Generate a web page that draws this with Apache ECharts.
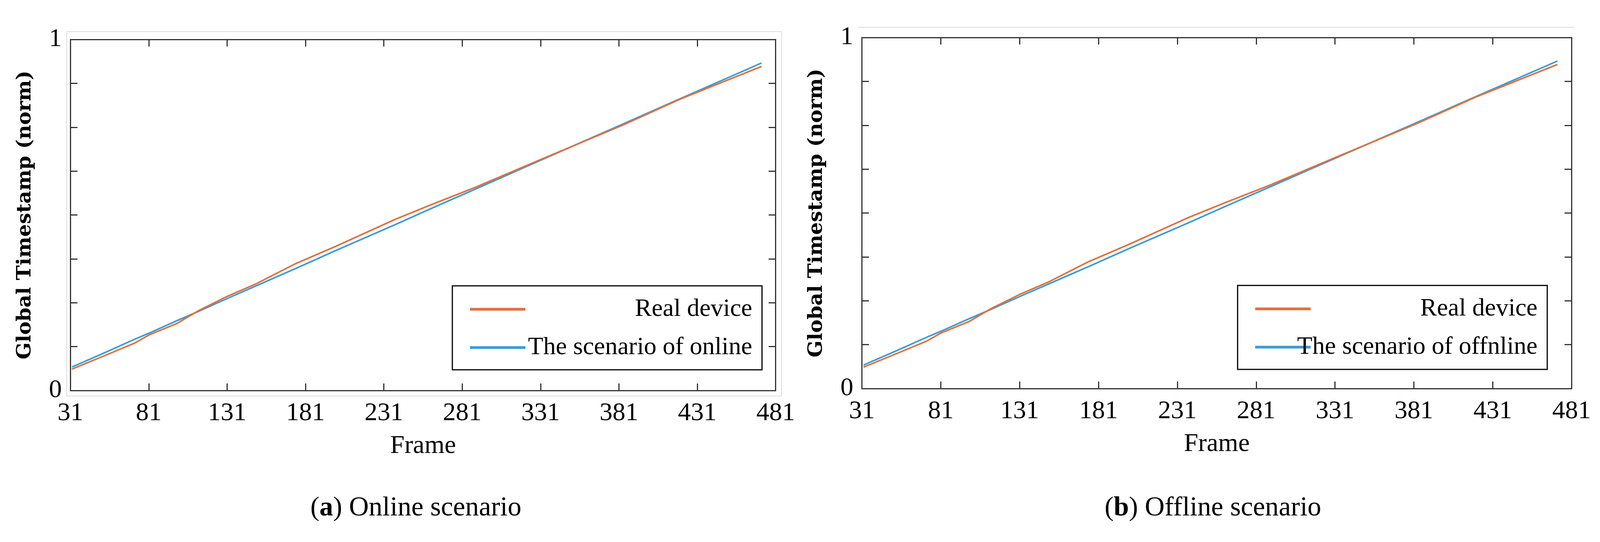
<!DOCTYPE html>
<html><head><meta charset="utf-8">
<script src="https://cdn.jsdelivr.net/npm/echarts@6/dist/echarts.min.js"></script>
<style>html,body{margin:0;background:#fff;overflow:hidden}#c{width:100vw;height:100vh}</style>
</head><body><div id="c"></div>
<script>
const xTicks = [31, 81, 131, 181, 231, 281, 331, 381, 431, 481];
const frames = [32, 50, 72, 81, 99, 113, 131, 150, 175, 200, 238, 260, 290, 330, 383, 420, 472];
const realOnline = [0.061, 0.094, 0.135, 0.158, 0.191, 0.228, 0.268, 0.305, 0.362, 0.410, 0.487, 0.527, 0.580, 0.656, 0.755, 0.830, 0.923];
const simOnline = [0.067, 0.102, 0.146, 0.163, 0.199, 0.226, 0.262, 0.299, 0.348, 0.398, 0.472, 0.516, 0.575, 0.654, 0.758, 0.831, 0.933];
const realOffline = [0.061, 0.094, 0.135, 0.158, 0.191, 0.228, 0.268, 0.305, 0.362, 0.410, 0.487, 0.527, 0.580, 0.656, 0.755, 0.830, 0.923];
const simOffline = [0.067, 0.102, 0.146, 0.163, 0.199, 0.226, 0.262, 0.299, 0.348, 0.398, 0.472, 0.516, 0.575, 0.654, 0.758, 0.831, 0.933];
const seriesNames = ['Real device', 'The scenario of online', 'The scenario of offnline'];
const captions = [['a', ' Online scenario'], ['b', ' Offline scenario']];

const F = 'Liberation Serif';
const el = document.getElementById('c');
const chart = echarts.init(el);
const sx = chart.getWidth() / 4340, sy = chart.getHeight() / 1388;
const X = v => v * sx, Y = v => v * sy;
const pair = (xs, ys) => xs.map((x, i) => [x, ys[i]]);
const grids = [
  {left: X(191), top: Y(101), width: X(1913), height: Y(899)},
  {left: X(2338), top: Y(96), width: X(1925), height: Y(899)}
];
const xAxes = [], yAxes = [];
grids.forEach((g, i) => {
  const base = {gridIndex: i, type: 'value', min: 31, max: 481, interval: 50,
    axisLine: {show: true, onZero: false, lineStyle: {color: '#333', width: 3}},
    axisTick: {show: true, inside: true, length: 18, lineStyle: {color: '#333', width: 3}},
    splitLine: {show: false}};
  xAxes.push(Object.assign({}, base, {position: 'bottom', name: 'Frame', nameLocation: 'middle', nameGap: 110,
    nameTextStyle: {fontFamily: F, fontSize: 66, color: '#000'},
    axisLabel: {fontFamily: F, fontSize: 66, color: '#000', margin: 26}}));
  xAxes.push(Object.assign({}, base, {position: 'top', axisLabel: {show: false}}));
  const yb = {gridIndex: i, type: 'value', min: 0, max: 1, interval: 0.125,
    axisLine: {show: true, onZero: false, lineStyle: {color: '#333', width: 3}},
    axisTick: {show: true, inside: true, length: 18, lineStyle: {color: '#333', width: 3}},
    splitLine: {show: false}};
  yAxes.push(Object.assign({}, yb, {position: 'left', name: 'Global Timestamp (norm)', nameLocation: 'middle', nameGap: 90,
    nameTextStyle: {fontFamily: 'DejaVu Serif', fontWeight: 'bold', fontSize: 51, color: '#000'},
    axisLabel: {fontFamily: F, fontSize: 66, color: '#000', margin: 22,
      formatter: v => (v === 0 || v === 1) ? String(v) : ''}}));
  yAxes.push(Object.assign({}, yb, {position: 'right', axisLabel: {show: false}}));
});
const line = (name, data, color, gi) => ({type: 'line', name, data, xAxisIndex: gi * 2, yAxisIndex: gi * 2,
  showSymbol: false, symbol: 'none', lineStyle: {color, width: 4}, itemStyle: {color}, z: color === '#3b9bd6' ? 2 : 3});
const legendBase = {orient: 'vertical', backgroundColor: '#fff', borderColor: '#000', borderWidth: 3,
  icon: 'rect', itemWidth: 142, itemHeight: 7, itemGap: 34, padding: [28, 25, 25, 45],
  formatter: n => '{t|' + n + '}',
  textStyle: {fontFamily: F, fontSize: 64, color: '#000',
    rich: {t: {fontFamily: F, fontSize: 64, color: '#000', width: X(610), align: 'right'}}}};
const option = {
  backgroundColor: '#fff', animation: false,
  grid: grids,
  xAxis: xAxes, yAxis: yAxes,
  legend: [
    Object.assign({}, legendBase, {left: X(1227), top: Y(732), data: [seriesNames[0], seriesNames[1]]}),
    Object.assign({}, legendBase, {left: X(3357), top: Y(731), data: [seriesNames[0], seriesNames[2]]})
  ],
  series: [
    line(seriesNames[0], pair(frames, realOnline), '#e0703f', 0),
    line(seriesNames[1], pair(frames, simOnline), '#3b9bd6', 0),
    line(seriesNames[0], pair(frames, realOffline), '#e0703f', 1),
    line(seriesNames[2], pair(frames, simOffline), '#3b9bd6', 1)
  ],
  graphic: [
    {type: 'rect', shape: {x: X(181), y: Y(81), width: X(1939), height: Y(933)}, style: {fill: 'none', stroke: '#ddd', lineWidth: 2}, z: -1},
    {type: 'line', shape: {x1: X(2327), y1: Y(70), x2: X(4270), y2: Y(70)}, style: {stroke: '#ddd', lineWidth: 2}, z: -1},
    {type: 'text', x: X(1128), y: Y(1302), style: {text: '({b|' + captions[0][0] + '})' + captions[0][1], fontFamily: F, fontSize: 70, fill: '#000', align: 'center', verticalAlign: 'middle',
      rich: {b: {fontFamily: F, fontSize: 70, fontWeight: 'bold', fill: '#000'}}}},
    {type: 'text', x: X(3290), y: Y(1302), style: {text: '({b|' + captions[1][0] + '})' + captions[1][1], fontFamily: F, fontSize: 70, fill: '#000', align: 'center', verticalAlign: 'middle',
      rich: {b: {fontFamily: F, fontSize: 70, fontWeight: 'bold', fill: '#000'}}}}
  ]
};
chart.setOption(option);
</script></body></html>
